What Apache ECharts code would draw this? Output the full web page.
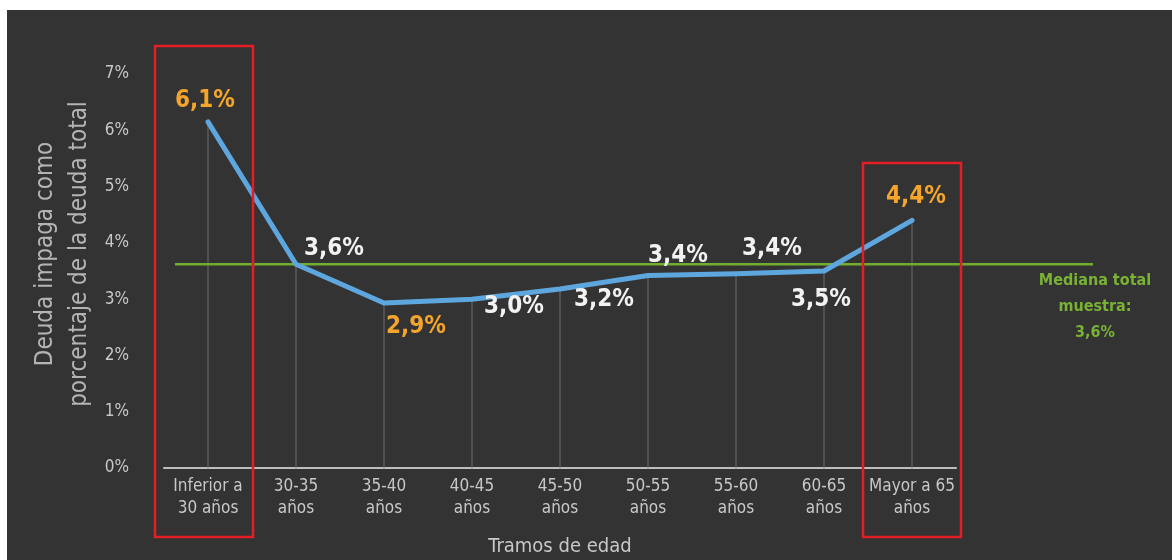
<!DOCTYPE html>
<html>
<head>
<meta charset="utf-8">
<script src="https://cdn.jsdelivr.net/npm/echarts@6/dist/echarts.min.js"></script>
<style>
html,body{margin:0;padding:0;background:#ffffff;width:1172px;height:560px;overflow:hidden;}
#c{position:absolute;left:7px;top:10px;width:1165px;height:550px;background:#333333;}
</style>
</head>
<body>
<div id="c"></div>
<script>
// ---- data ----
const categories = ['Inferior a\n30 años','30-35\naños','35-40\naños','40-45\naños','45-50\naños','50-55\naños','55-60\naños','60-65\naños','Mayor a 65\naños'];
const values = [6.15, 3.62, 2.93, 3.0, 3.18, 3.42, 3.45, 3.5, 4.4];
const labelTexts = ['6,1%','3,6%','2,9%','3,0%','3,2%','3,4%','3,4%','3,5%','4,4%'];
const highlighted = [true,false,true,false,false,false,false,false,true];
const medianValue = 3.62;
const medianText = 'Mediana total\nmuestra:\n3,6%';
const yTicks = [0,1,2,3,4,5,6,7];

// ---- styles ----
const FONT = "'Liberation Sans Narrow','DejaVu Sans Condensed','Roboto Condensed',sans-serif";
const labelOffsets = [[-3,-21],[38,-15],[32,24],[42,8],[44,11],[30,-20],[36,-25],[-3,29],[4,-24]];
const ORANGE = '#f5a52c';
const WHITE = '#f2f2f2';

const lineData = values.map((v,i)=>({
  value: v,
  label: {
    show: true,
    position: 'inside',
    offset: labelOffsets[i],
    formatter: labelTexts[i],
    color: highlighted[i] ? ORANGE : WHITE,
    fontSize: 24,
    fontWeight: 'bold',
    fontFamily: FONT
  }
}));

const chart = echarts.init(document.getElementById('c'));
chart.setOption({
  backgroundColor: '#333333',
  animation: false,
  grid: [
    {left: 157, right: 216, top: 64, bottom: 92, outerBoundsMode: 'none', containLabel: false},
    {left: 168, right: 79, top: 64, bottom: 92, outerBoundsMode: 'none', containLabel: false}
  ],
  xAxis: [
    {
      type: 'category', data: categories, gridIndex: 0,
      boundaryGap: true,
      axisLine: {show: true, lineStyle: {color: '#bdbdbd', width: 2}},
      axisTick: {show: false},
      axisLabel: {color: '#c8c8c8', fontSize: 17, fontFamily: FONT, lineHeight: 22, margin: 8, interval: 0},
      splitLine: {show: false},
      name: 'Tramos de edad', nameLocation: 'middle', nameGap: 69,
      nameTextStyle: {color: '#c8c8c8', fontSize: 20, fontFamily: FONT}
    },
    {type: 'value', gridIndex: 1, min: 0, max: 1, show: false}
  ],
  yAxis: [
    {
      type: 'value', gridIndex: 0, min: yTicks[0], max: yTicks[yTicks.length-1], interval: 1,
      axisLine: {show: false}, axisTick: {show: false}, splitLine: {show: false},
      axisLabel: {color: '#c8c8c8', fontSize: 17, fontFamily: FONT, margin: 35, padding: [8,0,0,0], formatter: '{value}%'}
    },
    {type: 'value', gridIndex: 1, min: 0, max: 7, show: false}
  ],
  series: [
    {
      type: 'bar', xAxisIndex: 0, yAxisIndex: 0, data: values, barWidth: 1,
      itemStyle: {color: '#6e6e6e'}, silent: true, z: 1
    },
    {
      type: 'line', xAxisIndex: 1, yAxisIndex: 1,
      data: [[0, medianValue],[1, medianValue]],
      symbol: 'none', lineStyle: {color: '#72ad2e', width: 2.5}, z: 2, silent: true
    },
    {
      type: 'line', xAxisIndex: 0, yAxisIndex: 0, data: lineData,
      symbol: 'circle', symbolSize: 1, showSymbol: true,
      itemStyle: {color: '#5ea7de'},
      lineStyle: {color: '#5ea7de', width: 5, cap: 'round', join: 'round'}, z: 3
    }
  ],
  graphic: [
    {type: 'rect', shape: {x: 148, y: 36, width: 98, height: 491}, style: {fill: 'none', stroke: '#e31e24', lineWidth: 2.5}, z: 10},
    {type: 'rect', shape: {x: 856, y: 153, width: 98, height: 374}, style: {fill: 'none', stroke: '#e31e24', lineWidth: 2.5}, z: 10},
    {type: 'text', x: 1088, y: 297, style: {text: medianText, fill: '#79b234', font: "bold 16px " + FONT, textAlign: 'center', textVerticalAlign: 'middle', lineHeight: 26}, z: 10},
    {type: 'text', x: 56, y: 244, rotation: Math.PI/2, style: {text: 'Deuda impaga como\nporcentaje de la deuda total', fill: '#b4b4b4', font: "24px " + FONT, textAlign: 'center', textVerticalAlign: 'middle', lineHeight: 34}, z: 10}
  ]
});
</script>
</body>
</html>
